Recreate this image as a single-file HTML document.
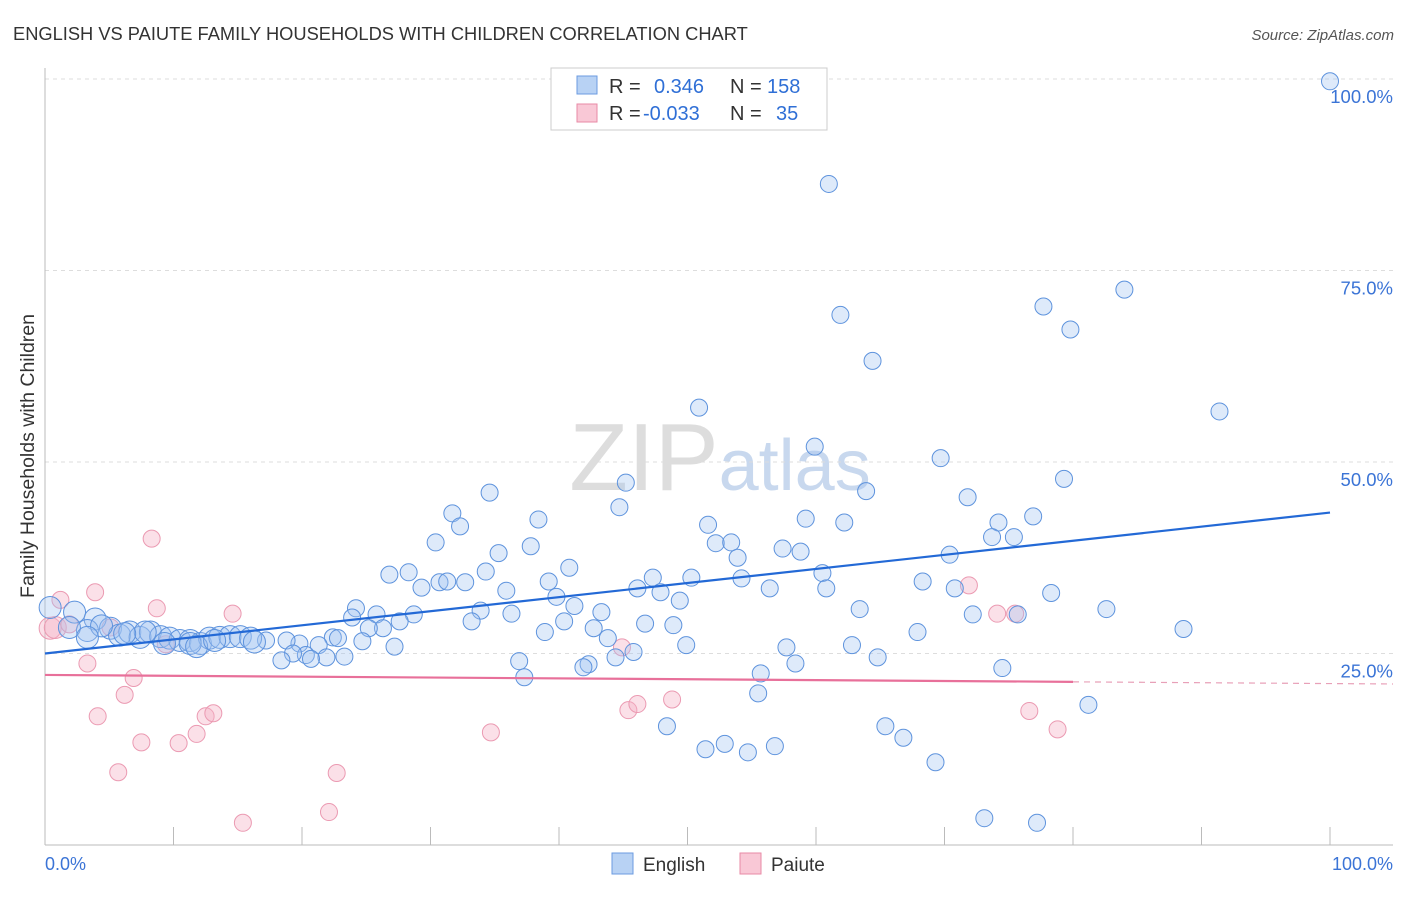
<!DOCTYPE html>
<html><head><meta charset="utf-8"><style>
body{margin:0;background:#fff;font-family:"Liberation Sans",sans-serif;}
svg text{font-family:"Liberation Sans",sans-serif;}
</style></head><body>
<svg id="chart" width="1406" height="892" xmlns="http://www.w3.org/2000/svg">
<text x="13" y="40" font-size="18.3" fill="#333">ENGLISH VS PAIUTE FAMILY HOUSEHOLDS WITH CHILDREN CORRELATION CHART</text>
<text x="1394" y="40" font-size="15" fill="#555" text-anchor="end" font-style="italic">Source: ZipAtlas.com</text>
<text transform="translate(34,456) rotate(-90)" font-size="19.5" fill="#333" text-anchor="middle">Family Households with Children</text>
<text x="720" y="490" font-size="96" fill="#ddd" text-anchor="middle" font-family="Liberation Serif">ZIP<tspan fill="#c8d8ee" font-family="Liberation Sans" font-size="72">atlas</tspan></text>
<g id="grid"></g><g id="axes"></g><g id="pts"></g><g id="lines"></g>
<g>
<rect x="551" y="68" width="276" height="62" fill="#fff" stroke="#ccc"/>
<rect x="577" y="76" width="20" height="18" fill="#b8d2f4" stroke="#6b9be0"/>
<text x="609" y="93" font-size="20" fill="#333">R = <tspan fill="#2f6fd6" x="654">0.346</tspan><tspan x="730">N = </tspan><tspan fill="#2f6fd6" x="767">158</tspan></text>
<rect x="577" y="104" width="20" height="18" fill="#f9c8d6" stroke="#e88aa6"/>
<text x="609" y="120" font-size="20" fill="#333">R = <tspan fill="#2f6fd6" x="643">-0.033</tspan><tspan x="730">N = </tspan><tspan fill="#2f6fd6" x="776">35</tspan></text>
</g>
<g>
<rect x="612" y="853" width="21" height="21" fill="#b8d2f4" stroke="#6b9be0"/>
<text x="643" y="871" font-size="19" fill="#333">English</text>
<rect x="740" y="853" width="21" height="21" fill="#f9c8d6" stroke="#e88aa6"/>
<text x="771" y="871" font-size="19" fill="#333">Paiute</text>
</g>
<text x="45" y="870" font-size="18" fill="#3b74d6">0.0%</text>
<text x="1393" y="870" font-size="18" fill="#3b74d6" text-anchor="end">100.0%</text>
</svg>
<script>
const engX=[100,61.0,61.9,77.7,84.0,79.8,64.4,91.4,50.9,59.9,69.7,79.3,63.9,34.6,45.2,71.8,31.7,38.4,44.7,59.2,62.2,51.6,74.2,76.9,32.3,30.4,35.3,37.8,52.2,53.4,53.9,57.4,58.8,70.4,73.7,75.4,26.8,28.3,34.3,40.8,39.2,29.3,30.7,31.3,32.7,35.9,47.3,46.1,50.3,54.2,47.9,56.4,60.5,60.8,68.3,70.8,39.8,49.4,24.2,23.9,25.8,33.9,36.3,41.2,43.3,28.7,27.6,33.2,40.4,42.7,46.7,48.9,63.4,72.2,75.7,78.3,82.6,88.6,67.9,38.9,26.3,25.2,43.8,49.9,57.7,62.8,27.2,24.7,22.4,22.8,21.3,19.8,18.8,17.2,45.8,44.4,64.8,58.4,36.9,42.3,41.9,74.5,55.7,37.3,23.3,21.9,20.3,19.3,18.4,20.7,55.5,81.2,65.4,48.4,66.8,52.9,51.4,56.8,54.7,69.3,73.1,77.2,0.4,2.3,3.9,3.3,5.1,1.9,5.8,6.6,7.4,8.2,9.0,9.7,10.5,11.3,12.1,12.8,13.6,14.4,15.2,16.0,16.3,11.3,9.3,7.8,6.2,4.4,3.3,11.8,13.2];
const engY=[99.7,86.3,69.2,70.3,72.5,67.3,63.2,56.6,57.1,52.0,50.5,47.8,46.2,46.0,47.3,45.4,43.3,42.5,44.1,42.6,42.1,41.8,42.1,42.9,41.6,39.5,38.1,39.0,39.4,39.5,37.5,38.7,38.3,37.9,40.2,40.2,35.3,35.6,35.7,36.2,34.4,33.6,34.3,34.4,34.3,33.2,34.9,33.5,34.9,34.8,33.0,33.5,35.5,33.5,34.4,33.5,32.4,31.9,30.9,29.7,30.1,30.6,30.2,31.2,30.4,30.1,29.2,29.2,29.2,28.3,28.9,28.7,30.8,30.1,30.1,32.9,30.8,28.2,27.8,27.8,28.3,28.3,27.0,26.1,25.8,26.1,25.9,26.6,27.1,27.0,26.1,26.3,26.7,26.7,25.2,24.5,24.5,23.7,24.0,23.6,23.2,23.1,22.4,21.9,24.6,24.5,24.8,25.0,24.1,24.3,19.8,18.3,15.5,15.5,14.0,13.2,12.5,12.9,12.1,10.8,3.5,2.9,31.0,30.4,29.5,28.0,28.3,28.4,27.4,27.8,27.1,27.8,27.2,27.0,26.7,26.7,26.3,27.0,27.1,27.2,27.2,27.0,26.5,26.3,26.3,27.8,27.6,28.6,27.1,25.9,26.7];
const paiX=[0.4,0.8,1.2,1.9,3.9,3.3,4.1,5.1,5.7,6.2,6.9,7.5,8.3,8.7,9.4,10.4,11.8,12.5,13.1,14.6,15.4,22.1,22.7,34.7,44.9,45.4,46.1,48.8,71.9,74.1,75.5,76.6,78.8];
const paiY=[28.3,28.4,32.0,28.8,33.0,23.7,16.8,28.4,9.5,19.6,21.8,13.4,40.0,30.9,26.2,13.3,14.5,16.8,17.2,30.2,2.9,4.3,9.4,14.7,25.8,17.6,18.4,19.0,33.9,30.2,30.2,17.5,15.1];
const engTrend=[25.0,43.4];
const paiTrend=[22.2,21.3];
const yTicks=[25,50,75,100];
const yTickLabels=["25.0%","50.0%","75.0%","100.0%"];
const xTicks=[0,10,20,30,40,50,60,70,80,90,100];

const X=v=>45+v*12.85, Y=v=>845-v*7.66;
const NS="http://www.w3.org/2000/svg";
function mk(tag,attrs,parent){const e=document.createElementNS(NS,tag);for(const k in attrs)e.setAttribute(k,attrs[k]);document.getElementById(parent).appendChild(e);return e;}
yTicks.forEach((t,i)=>{
  const l=mk('line',{x1:45,x2:1393,y1:Y(t),y2:Y(t),stroke:'#ddd','stroke-dasharray':'4,4'},'grid');
  
  
  const tx=mk('text',{x:1393,y:Y(t)+24,'font-size':18.5,fill:'#3b74d6','text-anchor':'end'},'grid');
  tx.textContent=yTickLabels[i];
  
  
});
const yl=mk('line',{x1:45,x2:45,y1:68,y2:845,stroke:'#bbb'},'axes');


const xl=mk('line',{x1:45,x2:1393,y1:845,y2:845,stroke:'#bbb'},'axes');


xTicks.forEach(t=>{
  const l=mk('line',{x1:X(t),x2:X(t),y1:827,y2:845,stroke:'#bbb'},'axes');
  
  
});
paiX.forEach((v,i)=>{
  const c=mk('circle',{cx:X(v),cy:Y(paiY[i]),r:i<2?11:8.5,fill:'rgba(246,178,198,0.4)',stroke:'#eb9ab2','stroke-width':1},'pts');
  
  
});
engX.forEach((v,i)=>{
  const c=mk('circle',{cx:X(v),cy:Y(engY[i]),r:v<17?11:8.5,fill:'rgba(160,196,240,0.35)',stroke:'#5e93dd','stroke-width':1},'pts');
  
  
});
const el=mk('line',{x1:X(0),y1:Y(engTrend[0]),x2:X(100),y2:Y(engTrend[1]),stroke:'#2369d6','stroke-width':2.2},'lines');


const pAt=v=>paiTrend[0]+(paiTrend[1]-paiTrend[0])*v/80;
const pl=mk('line',{x1:X(0),y1:Y(pAt(0)),x2:X(80),y2:Y(pAt(80)),stroke:'#e8709a','stroke-width':2.2},'lines');


const pd=mk('line',{x1:X(80),y1:Y(pAt(80)),x2:1393,y2:Y(pAt((1393-45)/12.85)),stroke:'#e8a0b8','stroke-width':1.2,'stroke-dasharray':'6,5'},'lines');


</script>
</body></html>
